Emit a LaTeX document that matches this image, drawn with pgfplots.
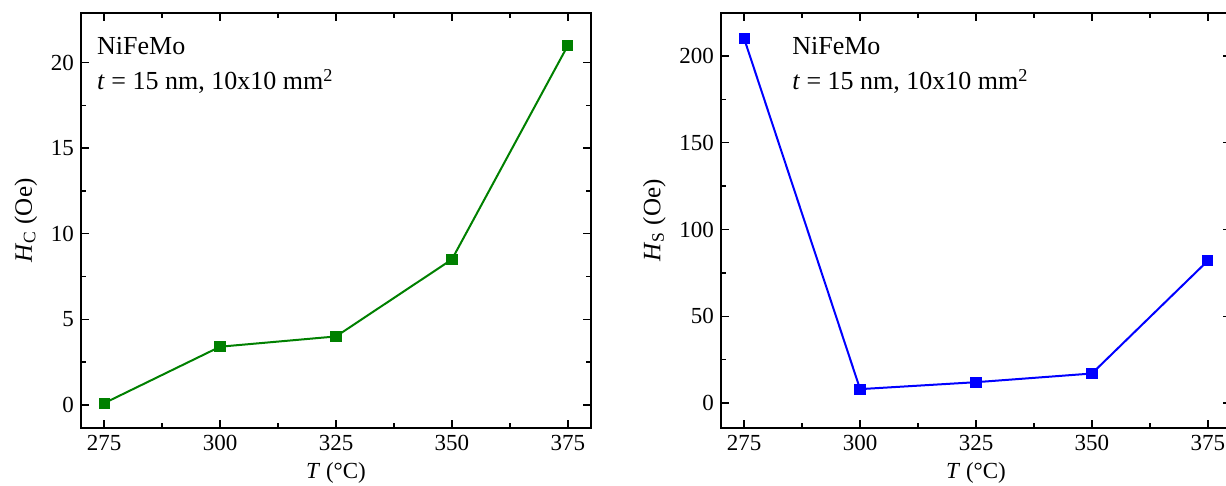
\documentclass[border=0pt]{standalone}
\usepackage{fontspec}
\setmainfont{Liberation Serif}
\usepackage{pgfplots}
\pgfplotsset{compat=1.18}

\definecolor{hcgreen}{RGB}{0,128,0}
\definecolor{hsblue}{RGB}{0,0,255}

\tikzset{
  note/.style={anchor=base west, inner sep=0pt,
    font=\rmfamily\fontsize{13}{15}\selectfont},
}

\pgfplotsset{
  panel/.style={
    scale only axis,
    width=255pt, height=207.5pt,
    anchor=south west,
    xmin=270, xmax=380,
    xtick={275,300,325,350,375},
    minor x tick num=1,
    minor y tick num=1,
    tick align=inside,
    major tick length=4pt,
    minor tick length=2.5pt,
    axis line style={line width=0.9pt},
    every tick/.style={black, line width=0.7pt},
    /pgf/number format/assume math mode=true,
    ticklabel style={font=\rmfamily\fontsize{11.5}{13}\selectfont},
    label style={font=\rmfamily\fontsize{11.5}{13}\selectfont},
    ylabel style={font=\rmfamily\fontsize{12.5}{14}\selectfont},
    xlabel={\textit{T} (°C)},
    xlabel style={yshift=1pt},
  },
}

\begin{document}
\begin{tikzpicture}
  % left panel: coercive field
  \begin{axis}[panel,
      at={(40.5pt,29pt)},
      ymin=-1.35, ymax=22.9,
      ytick={0,5,10,15,20},
      ylabel={\textit{H}\textsubscript{C} (Oe)},
    ]
    \addplot[hcgreen, line width=1pt, mark=square*, mark size=2.3pt,
             mark options={solid, fill=hcgreen}] coordinates {
      (275, 0.1) (300, 3.4) (325, 4.0) (350, 8.5) (375, 21.0)
    };
    \node[note] at (rel axis cs:0.031,0.901) {NiFeMo};
    \node[note] at (rel axis cs:0.031,0.815) {\textit{t} = 15 nm, 10x10 mm\textsuperscript{2}};
  \end{axis}

  % right panel: saturation field
  \begin{axis}[panel,
      at={(360.5pt,29pt)},
      ymin=-14.4, ymax=224.8,
      ytick={0,50,100,150,200},
      ylabel={\textit{H}\textsubscript{S} (Oe)},
    ]
    \addplot[hsblue, line width=1pt, mark=square*, mark size=2.3pt,
             mark options={solid, fill=hsblue}] coordinates {
      (275, 210) (300, 8) (325, 12) (350, 17) (375, 82)
    };
    \node[note] at (rel axis cs:0.139,0.901) {NiFeMo};
    \node[note] at (rel axis cs:0.139,0.815) {\textit{t} = 15 nm, 10x10 mm\textsuperscript{2}};
  \end{axis}

  \pgfresetboundingbox
  \path[use as bounding box] (0pt,0pt) rectangle (613pt,243pt);
\end{tikzpicture}
\end{document}
